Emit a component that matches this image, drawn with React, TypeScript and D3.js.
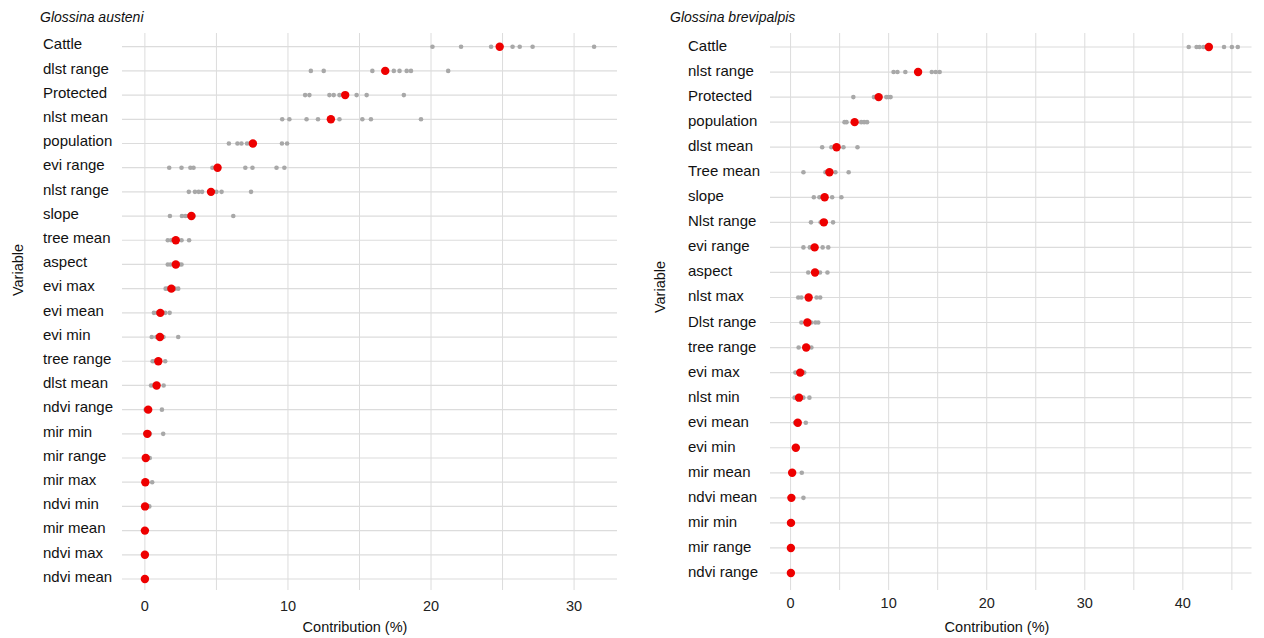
import React from "react";
import * as d3 from "d3";

// ---------- Glossina austeni ----------
const austeniVars = [
  "Cattle", "dlst range", "Protected", "nlst mean", "population", "evi range",
  "nlst range", "slope", "tree mean", "aspect", "evi max", "evi mean", "evi min",
  "tree range", "dlst mean", "ndvi range", "mir min", "mir range", "mir max",
  "ndvi min", "mir mean", "ndvi max", "ndvi mean",
];
const austeniMean = [
  24.8, 16.8, 14.0, 13.0, 7.55, 5.08, 4.62, 3.25, 2.16, 2.16, 1.85, 1.08, 1.05,
  0.94, 0.82, 0.23, 0.17, 0.06, 0.03, 0.01, 0.0, 0.0, 0.0,
];
const austeniRuns = [
  [20.1, 22.1, 24.2, 25.7, 26.2, 27.1, 31.4],
  [11.6, 12.5, 15.9, 17.4, 17.8, 18.3, 18.6, 21.2],
  [11.2, 11.5, 12.9, 13.2, 13.6, 14.8, 15.5, 18.1],
  [9.6, 10.1, 11.3, 12.1, 13.6, 15.2, 15.8, 19.3],
  [5.87, 6.47, 6.75, 7.14, 7.35, 9.58, 9.94],
  [1.7, 2.56, 3.18, 3.4, 4.72, 7.02, 7.52, 9.2, 9.75],
  [3.07, 3.5, 3.76, 4.0, 5.0, 5.36, 7.42],
  [1.75, 2.59, 2.83, 3.07, 3.4, 6.18],
  [1.6, 1.84, 2.56, 3.09],
  [1.6, 1.8, 2.4, 2.56],
  [1.45, 1.6, 2.1, 2.33],
  [0.63, 0.85, 1.42, 1.73],
  [0.48, 0.8, 1.3, 2.33],
  [0.54, 0.7, 1.42],
  [0.43, 0.6, 1.31],
  [0.05, 0.3, 1.19],
  [0.03, 0.35, 1.28],
  [0.0, 0.34],
  [0.0, 0.51],
  [0.0, 0.31],
  [0.0, 0.05],
  [0.0, 0.03],
  [0.0, 0.02],
];
const austeniTicks = [0, 10, 20, 30];
const austeniGrid = [0, 5, 10, 15, 20, 25, 30];

// ---------- Glossina brevipalpis ----------
const brevVars = [
  "Cattle", "nlst range", "Protected", "population", "dlst mean", "Tree mean",
  "slope", "Nlst range", "evi range", "aspect", "nlst max", "Dlst range",
  "tree range", "evi max", "nlst min", "evi mean", "evi min", "mir mean",
  "ndvi mean", "mir min", "mir range", "ndvi range",
];
const brevMean = [
  42.65, 13.0, 8.98, 6.53, 4.69, 3.96, 3.47, 3.39, 2.45, 2.49, 1.84, 1.71, 1.59,
  0.98, 0.86, 0.73, 0.53, 0.16, 0.08, 0.04, 0.03, 0.03,
];
const brevRuns = [
  [40.6, 41.4, 41.7, 42.1, 42.4, 44.2, 45.0, 45.6],
  [10.5, 10.9, 11.7, 14.4, 14.8, 15.2],
  [6.4, 8.5, 9.76, 9.96, 10.2],
  [5.5, 5.7, 7.2, 7.5, 7.8],
  [3.22, 4.16, 5.39, 6.82],
  [1.31, 3.55, 4.57, 5.92],
  [2.37, 2.94, 4.24, 5.18],
  [2.08, 3.06, 4.33],
  [1.31, 1.96, 3.27, 3.84],
  [1.8, 3.0, 3.76],
  [0.78, 1.1, 2.65, 3.02],
  [1.1, 2.1, 2.53, 2.82],
  [0.82, 2.12],
  [0.49, 1.39],
  [0.41, 1.3, 1.92],
  [0.45, 1.55],
  [0.4, 0.7],
  [1.14],
  [1.31],
  [0.02],
  [0.02],
  [0.02],
];
const brevTicks = [0, 10, 20, 30, 40];
const brevGrid = [0, 5, 10, 15, 20, 25, 30, 35, 40, 45];

const FONT = "'Liberation Sans', Arial, Helvetica, sans-serif";
const GRID = "#dcdcdc";
const GREY = "#a8a8a8";
const RED = "#ee0000";

type PanelProps = {
  title: string;
  vars: string[];
  means: number[];
  runs: number[][];
  ticks: number[];
  grid: number[];
  xDomain: [number, number];
  xRange: [number, number];
  yRange: [number, number];
  labelX: number;
  labelDy: number;
  titleX: number;
  varX: number;
  varY: number;
  tickY: number;
  axisTitleX: number;
  axisTitleY: number;
};

function Panel(p: PanelProps) {
  const x = d3.scaleLinear().domain(p.xDomain).range(p.xRange);
  const y = d3.scalePoint<string>().domain(p.vars).range(p.yRange);
  const gridTop = 33;
  const gridBottom = 590;
  return (
    <g fontFamily={FONT}>
      <text x={p.titleX} y={22} fontSize={14} fontStyle="italic" fill="#111">
        {p.title}
      </text>
      {p.grid.map((g) => (
        <line key={"v" + g} x1={x(g)} x2={x(g)} y1={gridTop} y2={gridBottom} stroke={GRID} strokeWidth={1} />
      ))}
      {p.vars.map((v) => (
        <line key={"h" + v} x1={p.xRange[0]} x2={p.xRange[1]} y1={y(v)} y2={y(v)} stroke={GRID} strokeWidth={1.2} />
      ))}
      {p.vars.map((v) => (
        <text key={"l" + v} x={p.labelX} y={(y(v) as number) + p.labelDy} fontSize={15} fill="#111">
          {v}
        </text>
      ))}
      {p.runs.map((arr, i) =>
        arr.map((val, j) => (
          <circle key={"g" + i + "-" + j} cx={x(val)} cy={y(p.vars[i])} r={2.3} fill={GREY} />
        ))
      )}
      {p.means.map((m, i) => (
        <circle key={"r" + i} cx={x(m)} cy={y(p.vars[i])} r={4.2} fill={RED} />
      ))}
      {p.ticks.map((t) => (
        <text key={"t" + t} x={x(t)} y={p.tickY} fontSize={14.5} fill="#222" textAnchor="middle">
          {t}
        </text>
      ))}
      <text x={p.axisTitleX} y={p.axisTitleY} fontSize={14.5} fill="#111" textAnchor="middle">
        Contribution (%)
      </text>
      <text
        transform={`translate(${p.varX},${p.varY}) rotate(-90)`}
        fontSize={14.5}
        fill="#111"
        textAnchor="middle"
      >
        Variable
      </text>
    </g>
  );
}

export default function App() {
  return (
    <svg
      width={1264}
      height={638}
      style={{ position: "absolute", left: 0, top: 0, background: "#fff" }}
    >
      <rect width={1264} height={638} fill="#fff" />
      <Panel
        title="Glossina austeni"
        vars={austeniVars}
        means={austeniMean}
        runs={austeniRuns}
        ticks={austeniTicks}
        grid={austeniGrid}
        xDomain={[-1.6, 33]}
        xRange={[122, 617]}
        yRange={[46.7, 579]}
        labelX={43}
        labelDy={2.7}
        titleX={40}
        varX={23}
        varY={270}
        tickY={611}
        axisTitleX={355}
        axisTitleY={632}
      />
      <Panel
        title="Glossina brevipalpis"
        vars={brevVars}
        means={brevMean}
        runs={brevRuns}
        ticks={brevTicks}
        grid={brevGrid}
        xDomain={[-2.1, 47.0]}
        xRange={[770, 1251.5]}
        yRange={[47, 573]}
        labelX={688}
        labelDy={4}
        titleX={670}
        varX={665}
        varY={287}
        tickY={608}
        axisTitleX={997}
        axisTitleY={632}
      />
    </svg>
  );
}
